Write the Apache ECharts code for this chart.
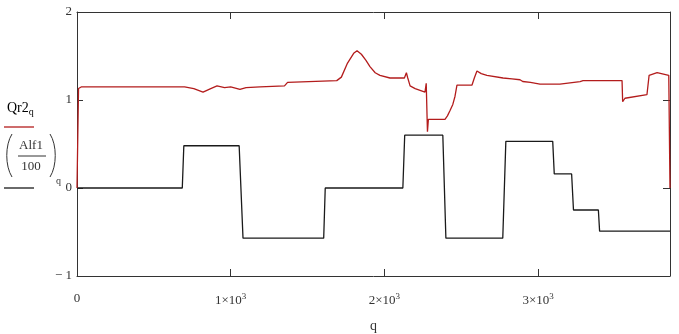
<!DOCTYPE html>
<html><head><meta charset="utf-8">
<script src="https://cdn.jsdelivr.net/npm/echarts@6/dist/echarts.min.js"></script>
<style>html,body{margin:0;padding:0;background:#fff}#c{width:679px;height:334px}</style>
</head><body><div id="c"></div>
<script>
// q positions and values of Qr2 (red)
const qRed = [0,10,30,700,760,820,870,911,960,1000,1060,1100,1191,1350,1370,1690,1720,1760,1800,1822,1850,1880,1906,1940,1971,2036,2130,2143,2152,2167,2200,2264,2272,2280,2286,2394,2410,2427,2445,2459,2472,2570,2585,2602,2630,2667,2772,2830,2882,2900,2950,3012,3142,3273,3292,3546,3550,3565,3708,3722,3774,3850,3858];
const valRed = [0,1.13,1.15,1.15,1.13,1.09,1.13,1.16,1.14,1.15,1.12,1.14,1.15,1.16,1.20,1.22,1.26,1.42,1.53,1.56,1.52,1.45,1.38,1.31,1.28,1.25,1.25,1.31,1.25,1.16,1.13,1.09,1.19,0.64,0.78,0.78,0.82,0.88,0.95,1.04,1.17,1.17,1.25,1.33,1.30,1.28,1.25,1.24,1.23,1.21,1.20,1.18,1.18,1.21,1.22,1.22,0.98,1.02,1.06,1.28,1.31,1.28,0];
// q positions and values of Alf1/100 (black)
const qBlack = [0,685,695,1055,1080,1605,1615,2120,2132,2380,2400,2770,2790,3095,3105,3218,3230,3392,3400,3858];
const valBlack = [0,0,0.48,0.48,-0.57,-0.57,0,0,0.60,0.60,-0.57,-0.57,0.53,0.53,0.16,0.16,-0.25,-0.25,-0.49,-0.49];
const xTicks = [0,1000,2000,3000];
const yTicks = [-1,0,1,2];
const xMax = 3858;

const zip = (a,b)=>a.map((v,i)=>[v,b[i]]);
const FONT = '"Liberation Serif","DejaVu Serif",serif';
const RED = '#b31c1c', BLACK = '#1a1a1a', AX = '#333';

const chart = echarts.init(document.getElementById('c'), null, {renderer:'canvas'});
const xLabel = v => {
  if (v === 0) return '{m|0}';
  if (v % 1000 !== 0 || xTicks.indexOf(v) < 0) return '';
  return '{m|' + (v/1000) + '×10}{s|3}';
};
const rich = {m:{fontFamily:FONT,fontSize:13,color:AX},s:{fontFamily:FONT,fontSize:9,color:AX,verticalAlign:'top',padding:[0,0,8,0]}};
const axLine = {show:true,onZero:false,lineStyle:{color:AX,width:1}};
chart.setOption({
  animation:false,
  backgroundColor:'#fff',
  grid:{left:77,right:9,top:12,bottom:58,containLabel:false,outerBoundsMode:'none'},
  xAxis:[
    {type:'value',min:0,max:xMax,interval:1000,position:'bottom',
     axisLine:axLine,
     axisTick:{inside:true,length:7,lineStyle:{color:AX}},
     splitLine:{show:false},
     axisLabel:{formatter:xLabel,rich:rich,margin:16,showMaxLabel:false},
     name:'q',nameLocation:'middle',nameGap:43,
     nameTextStyle:{fontFamily:FONT,fontSize:14,color:AX}},
    {type:'value',min:0,max:xMax,interval:1000,position:'top',
     axisLine:axLine,
     axisTick:{inside:true,length:7,lineStyle:{color:AX}},
     splitLine:{show:false},axisLabel:{show:false}}
  ],
  yAxis:[
    {type:'value',min:yTicks[0],max:yTicks[yTicks.length-1],interval:1,position:'left',
     axisLine:axLine,
     axisTick:{show:true,inside:true,length:6,lineStyle:{color:AX}},
     splitLine:{show:false},
     axisLabel:{margin:5,fontFamily:FONT,fontSize:13,color:AX,
       formatter:v=>v<0?'− '+Math.abs(v):String(v)}},
    {type:'value',min:yTicks[0],max:yTicks[yTicks.length-1],interval:1,position:'right',
     axisLine:axLine,
     axisTick:{show:true,inside:true,length:7,lineStyle:{color:AX}},
     splitLine:{show:false},axisLabel:{show:false}}
  ],
  series:[
    {type:'line',data:zip(qBlack,valBlack),showSymbol:false,symbol:'none',
     lineStyle:{color:BLACK,width:1.3},z:3},
    {type:'line',data:zip(qRed,valRed),showSymbol:false,symbol:'none',
     lineStyle:{color:RED,width:1.3},z:4}
  ],
  graphic:[
    {type:'text',left:7,top:101,style:{text:'{m|Qr2}{s|q}',rich:{m:{fontFamily:FONT,fontSize:14,color:AX},s:{fontFamily:FONT,fontSize:10,color:AX,padding:[8,0,0,0]}}}},
    {type:'line',shape:{x1:4,y1:127,x2:34,y2:127},style:{stroke:RED,lineWidth:1.3}},
    {type:'bezierCurve',shape:{x1:12,y1:134,x2:12,y2:177,cpx1:5,cpy1:145,cpx2:5,cpy2:166},style:{stroke:AX,lineWidth:1,fill:null}},
    {type:'bezierCurve',shape:{x1:50,y1:134,x2:50,y2:177,cpx1:57,cpy1:145,cpx2:57,cpy2:166},style:{stroke:AX,lineWidth:1,fill:null}},
    {type:'text',x:31,y:146,style:{text:'Alf1',fontFamily:FONT,fontSize:13,fill:AX,align:'center',verticalAlign:'middle'}},
    {type:'line',shape:{x1:18,y1:156,x2:46,y2:156},style:{stroke:AX,lineWidth:1}},
    {type:'text',x:31,y:167,style:{text:'100',fontFamily:FONT,fontSize:13,fill:AX,align:'center',verticalAlign:'middle'}},
    {type:'text',x:56,y:181,style:{text:'q',fontFamily:FONT,fontSize:10,fill:AX,verticalAlign:'middle'}},
    {type:'line',shape:{x1:4,y1:188,x2:34,y2:188},style:{stroke:BLACK,lineWidth:1.3}}
  ]
});
</script></body></html>
